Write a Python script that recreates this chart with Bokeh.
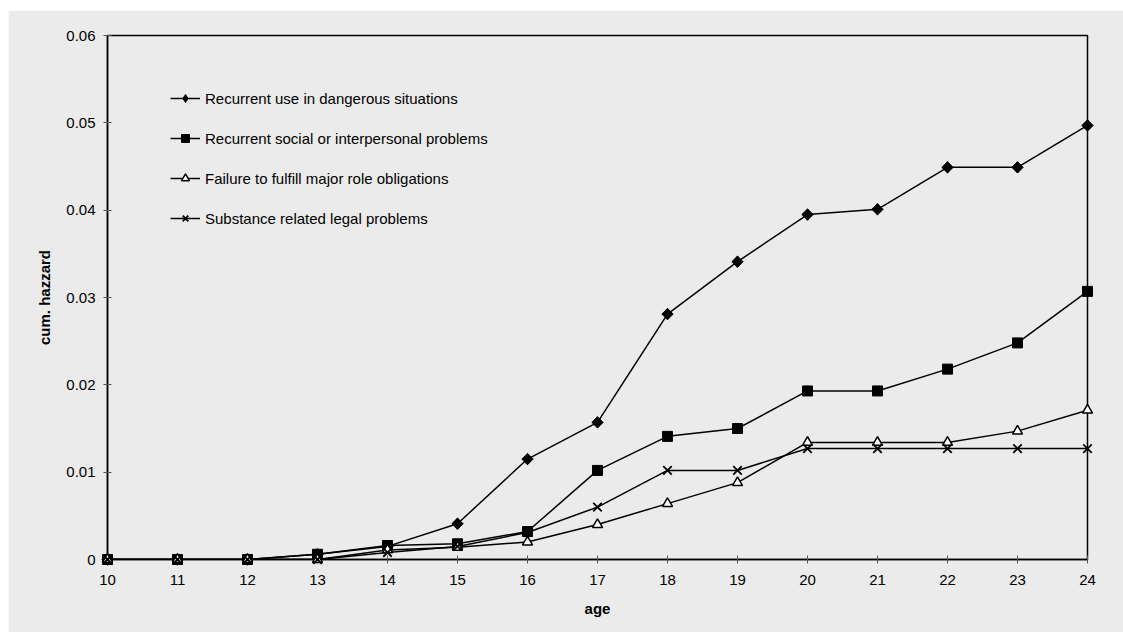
import math
from bokeh.plotting import figure
from bokeh.models import Range1d, FixedTicker, Legend, LegendItem, ColumnDataSource
from bokeh.embed import file_html
from bokeh.resources import INLINE

# ---- data ----
ages = [10, 11, 12, 13, 14, 15, 16, 17, 18, 19, 20, 21, 22, 23, 24]
dangerous = [0, 0, 0, 0.0006, 0.0015, 0.0041, 0.0115, 0.0157, 0.0281, 0.0341, 0.0395, 0.0401, 0.0449, 0.0449, 0.0497]
social = [0, 0, 0, 0.0006, 0.0016, 0.0018, 0.0032, 0.0102, 0.0141, 0.0150, 0.0193, 0.0193, 0.0218, 0.0248, 0.0307]
failure = [0, 0, 0, 0, 0.0011, 0.0014, 0.0020, 0.0040, 0.0064, 0.0088, 0.0134, 0.0134, 0.0134, 0.0147, 0.0171]
legal = [0, 0, 0, 0, 0.0008, 0.0015, 0.0031, 0.0060, 0.0102, 0.0102, 0.0127, 0.0127, 0.0127, 0.0127, 0.0127]
series_names = [
    "Recurrent use in dangerous situations",
    "Recurrent social or interpersonal problems",
    "Failure to fulfill major role obligations",
    "Substance related legal problems",
]
y_ticks = [0, 0.01, 0.02, 0.03, 0.04, 0.05, 0.06]
y_tick_labels = ["0", "0.01", "0.02", "0.03", "0.04", "0.05", "0.06"]

BG = "#ebebeb"
FONT = "Liberation Sans"

p = figure(
    frame_width=980, frame_height=524,
    width=1115, height=622,
    min_border_left=99, min_border_right=36, min_border_top=25, min_border_bottom=73,
    x_range=Range1d(ages[0], ages[-1]), y_range=Range1d(y_ticks[0], y_ticks[-1]),
    output_backend="svg", toolbar_location=None,
    background_fill_color=BG, border_fill_color=BG,
    margin=(10, 0, 0, 8),
)
p.grid.visible = False
p.outline_line_color = "black"
p.outline_line_width = 1.5

for ax in (p.xaxis[0], p.yaxis[0]):
    ax.axis_line_color = "black"
    ax.axis_line_width = 1.5
    ax.major_tick_in = 4
    ax.major_tick_out = 4
    ax.major_tick_line_color = "#555555"
    ax.minor_tick_line_color = None
    ax.major_label_text_font = FONT
    ax.major_label_text_font_size = "15px"
    ax.major_label_text_color = "black"
    ax.axis_label_text_font = FONT
    ax.axis_label_text_font_size = "15px"
    ax.axis_label_text_font_style = "bold"
    ax.axis_label_text_color = "black"

p.xaxis.ticker = FixedTicker(ticks=ages)
p.xaxis.axis_label = "age"
p.xaxis.major_label_standoff = 11
p.xaxis.axis_label_standoff = 12

p.yaxis.ticker = FixedTicker(ticks=y_ticks)
p.yaxis.major_label_overrides = {t: l for t, l in zip(y_ticks, y_tick_labels)}
p.yaxis.axis_label = "cum. hazzard"
p.yaxis.major_label_standoff = 8
p.yaxis.axis_label_standoff = 10

items = []
# (values, marker, size, fill, angle, line width, legend-swatch marker or None, swatch size)
specs = [
    (dangerous, "square", 8, "black", math.pi / 4, 1.0, "diamond", 11),
    (social, "square", 10, "black", 0, 1.0, None, 0),
    (failure, "triangle", 10, "white", 0, 1.5, None, 0),
    (legal, "x", 12, "black", 0, 1.8, None, 0),
]
for (vals, marker, size, fill, ang, lw, lg_marker, lg_size), name in zip(specs, series_names):
    src = ColumnDataSource(dict(x=ages, y=vals))
    l = p.line("x", "y", source=src, line_color="black", line_width=1.5)
    s = p.scatter("x", "y", source=src, marker=marker, size=size, fill_color=fill, angle=ang,
                  line_color="black", line_width=lw, level="overlay")
    if lg_marker is not None:
        # swatch renderer, hidden underneath the rotated squares on the plot
        sw = p.scatter("x", "y", source=src, marker=lg_marker, size=lg_size,
                       fill_color=fill, line_color="black", line_width=lw)
        items.append(LegendItem(label=name, renderers=[l, sw]))
    else:
        items.append(LegendItem(label=name, renderers=[l, s]))

legend = Legend(items=items, location=(63, 331))
legend.background_fill_alpha = 0
legend.border_line_alpha = 0
legend.padding = 0
legend.margin = 0
legend.spacing = 20
legend.label_height = 20
legend.glyph_height = 20
legend.glyph_width = 30
legend.label_standoff = 5
legend.label_text_font = FONT
legend.label_text_font_size = "15px"
legend.label_text_color = "black"
p.add_layout(legend, "center")

open("out.html", "w").write(file_html(p, INLINE))
